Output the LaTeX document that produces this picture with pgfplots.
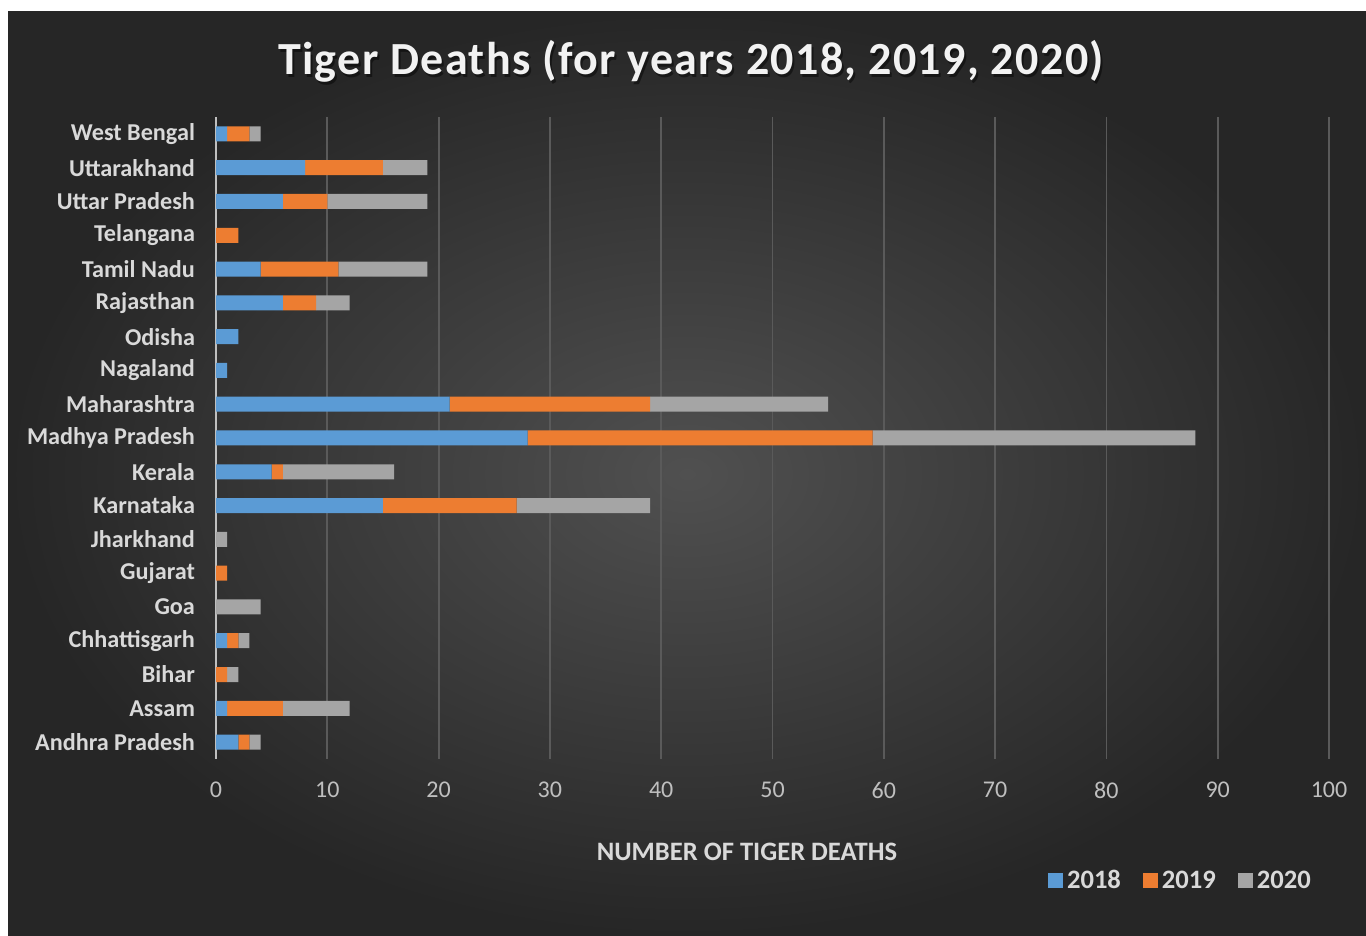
\documentclass[border=0pt]{standalone}
\usepackage{fontspec}
\setmainfont{Carlito}
\usepackage{pgfplots}
\pgfplotsset{compat=1.18}
\usepackage{pgfplotstable}
\definecolor{c2018}{HTML}{5B9BD5}
\definecolor{c2019}{HTML}{ED7D31}
\definecolor{c2020}{HTML}{A5A5A5}
\definecolor{txt}{HTML}{D9D9D9}
\definecolor{tick}{HTML}{BFBFBF}
\definecolor{gridc}{HTML}{5A5A5A}
\definecolor{bgin}{HTML}{505050}
\definecolor{bgout}{HTML}{262626}
% rows: Andhra Pradesh (bottom) ... West Bengal (top)
\pgfplotstableread{
y a b c
0 2 1 1
1 1 5 6
2 0 1 1
3 1 1 1
4 0 0 4
5 0 1 0
6 0 0 1
7 15 12 12
8 5 1 10
9 28 31 29
10 21 18 16
11 1 0 0
12 2 0 0
13 6 3 3
14 4 7 8
15 0 2 0
16 6 4 9
17 8 7 4
18 1 2 1
}\data
\begin{document}
\begin{tikzpicture}
\useasboundingbox (0pt,0pt) rectangle (683pt,468pt);
\fill[white] (0pt,0pt) rectangle (683pt,468pt);
\shade[inner color=bgin, outer color=bgout] (4pt,0pt) rectangle (683pt,462pt);
\node[anchor=base, font=\bfseries\fontsize{23}{26}\selectfont, opacity=0.45, text=black] at (346.5pt,429.3pt) {\addfontfeature{LetterSpace=3}Tiger Deaths (for years 2018, 2019, 2020)};
\node[anchor=base, text={rgb,255:red,242;green,242;blue,242}, font=\bfseries\fontsize{23}{26}\selectfont] at (345.5pt,430.5pt) {\addfontfeature{LetterSpace=3}Tiger Deaths (for years 2018, 2019, 2020)};
\begin{axis}[
  at={(108pt,88.5pt)}, anchor=south west,
  scale only axis, width=556.5pt, height=321pt,
  xbar stacked, bar width=7.5pt,
  xmin=0, xmax=100, xtick={0,10,...,100},
  ymin=-0.5, ymax=18.5, ytick={0,...,18},
  yticklabels={Andhra Pradesh,Assam,Bihar,Chhattisgarh,Goa,Gujarat,Jharkhand,Karnataka,Kerala,Madhya Pradesh,Maharashtra,Nagaland,Odisha,Rajasthan,Tamil Nadu,Telangana,Uttar Pradesh,Uttarakhand,West Bengal},
  axis line style={draw=none},
  major tick length=0pt,
  xmajorgrids, grid style={gridc, line width=0.9pt},
  /pgf/number format/assume math mode=true,
  xticklabel style={font=\fontsize{12}{14}\selectfont, text=tick, yshift=-8pt},
  yticklabel style={font=\bfseries\fontsize{12.1}{14}\selectfont, text=txt, xshift=-7pt},
  legend style={at={(0.993,-0.19)}, anchor=east, legend columns=3, draw=none, fill=none,
    font=\bfseries\fontsize{13.3}{15}\selectfont, text=txt,
    /tikz/every even column/.append style={column sep=9pt}},
  legend image code/.code={\fill[#1] (0pt,-3.75pt) rectangle (7.5pt,3.75pt);},
  clip=false,
]
\addplot[fill=c2018, draw=none] table[x=a, y=y] {\data};
\addplot[fill=c2019, draw=none] table[x=b, y=y] {\data};
\addplot[fill=c2020, draw=none] table[x=c, y=y] {\data};
\legend{2018,2019,2020}
\draw[tick, line width=1pt] (axis cs:0,-0.5) -- (axis cs:0,18.5);
\end{axis}
\node[font=\bfseries\fontsize{13.3}{15}\selectfont, text=txt] at (373.5pt,42pt) {NUMBER OF TIGER DEATHS};
\end{tikzpicture}
\end{document}
